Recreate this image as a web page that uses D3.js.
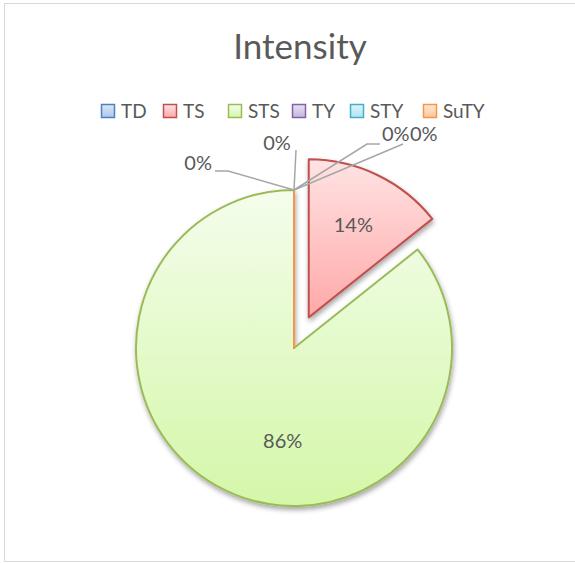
<!DOCTYPE html>
<html>
<head>
<meta charset="utf-8">
<script src="https://cdn.jsdelivr.net/npm/d3@7"></script>
<style>
  body { margin: 0; background: #fff; }
  svg text { font-family: Lato, "Open Sans", sans-serif; fill: #595959; }
</style>
</head>
<body>
<div class="canvas"></div>
<script>
// chart data
var categories = ['TD', 'TS', 'STS', 'TY', 'STY', 'SuTY'];
var counts = [0, 1, 6, 0, 0, 0];
var title = 'Intensity';

// excel-ish colours: border, gradient top, gradient bottom
var colors = ['#4F81BD', '#C0504D', '#9BBB59', '#8064A2', '#4BACC6', '#F79646'];
var fillTop = ['#DCE6F7', '#FFE3E3', '#F4FDEC', '#E8E0F3', '#DDF4FB', '#FFE8D6'];
var fillBottom = ['#AFC6EE', '#FFA8A8', '#D4F7A8', '#C6B6E0', '#ADE4F4', '#FFC69C'];

var width = 575, height = 563;
var cx = 294, cy = 348, radius = 158;
var explode = { TS: 34 };

var svg = d3.select('.canvas').append('svg')
	.attr('width', width).attr('height', height);

var defs = svg.append('defs');

// soft shadow like excel
var shadow = defs.append('filter').attr('id', 'shadow')
	.attr('x', '-20%').attr('y', '-20%').attr('width', '140%').attr('height', '140%');
shadow.append('feDropShadow')
	.attr('dx', 1).attr('dy', 3).attr('stdDeviation', 2.5)
	.attr('flood-color', '#000').attr('flood-opacity', 0.35);

// vertical gradient per category
categories.forEach(function(c, i) {
	var g = defs.append('linearGradient').attr('id', 'grad' + i)
		.attr('x1', 0).attr('y1', 0).attr('x2', 0).attr('y2', 1);
	g.append('stop').attr('offset', '0%').attr('stop-color', fillTop[i]);
	g.append('stop').attr('offset', '100%').attr('stop-color', fillBottom[i]);
});

// chart area border
svg.append('rect')
	.attr('x', 4.5).attr('y', 3.5)
	.attr('width', width + 10).attr('height', 558)
	.attr('fill', 'none').attr('stroke', '#D9D9D9').attr('stroke-width', 1);

svg.append('text')
	.attr('x', 300).attr('y', 59)
	.attr('text-anchor', 'middle')
	.style('font-size', '35px')
	.text(title);

// legend
var legendX = [101, 163, 228, 292, 350, 423];
var legend = svg.selectAll('g.legend')
	.data(categories)
	.enter().append('g')
	.classed('legend', true)
	.attr('transform', function(d, i) { return 'translate(' + legendX[i] + ',104)'; });
legend.append('rect')
	.attr('x', 0.5).attr('y', 0.5).attr('width', 13).attr('height', 13)
	.attr('fill', function(d, i) { return 'url(#grad' + i + ')'; })
	.attr('stroke', function(d, i) { return colors[i]; })
	.attr('stroke-width', 1.5);
legend.append('text')
	.attr('x', 20).attr('y', 13.5)
	.style('font-size', '19px')
	.text(function(d) { return d; });

// pie
var data = categories.map(function(c, i) { return { name: c, value: counts[i], idx: i }; });
var pie = d3.pie().sort(null).value(function(d) { return d.value; });
var arcs = pie(data);
var total = d3.sum(counts);
var arc = d3.arc().innerRadius(0).outerRadius(radius);

function offset(d) {
	var e = explode[d.data.name] || 0;
	var a = (d.startAngle + d.endAngle) / 2;
	return [e * Math.sin(a), -e * Math.cos(a)];
}

var grp = svg.append('g').attr('transform', 'translate(' + cx + ',' + cy + ')');

grp.selectAll('path.slice')
	.data(arcs)
	.enter().append('path')
	.classed('slice', true)
	.attr('transform', function(d) { return 'translate(' + offset(d) + ')'; })
	.attr('d', arc)
	.attr('fill', function(d) { return 'url(#grad' + d.data.idx + ')'; })
	.attr('stroke', function(d) { return colors[d.data.idx]; })
	.attr('stroke-width', 2)
	.attr('stroke-linejoin', 'round')
	.attr('filter', function(d) { return d.value > 0 ? 'url(#shadow)' : null; });

// labels for non-zero slices
var labelSpot = { TS: { angle: null, k: 0.65 }, STS: { angle: 187 * Math.PI / 180, k: 0.59 } };
var fmt = d3.format('.0%');
grp.selectAll('text.val')
	.data(arcs.filter(function(d) { return d.value > 0; }))
	.enter().append('text')
	.classed('val', true)
	.attr('text-anchor', 'middle')
	.style('font-size', '20px')
	.attr('transform', function(d) {
		var s = labelSpot[d.data.name];
		var a = s.angle != null ? s.angle : (d.startAngle + d.endAngle) / 2;
		var o = offset(d);
		return 'translate(' + [o[0] + s.k * radius * Math.sin(a), o[1] - s.k * radius * Math.cos(a) + 7] + ')';
	})
	.text(function(d) { return fmt(d.value / total); });

// zero slices get leader lines (placement as excel put them)
var zeroLayout = {
	TD:   { elbow: [73, -46], end: [86, -46], tx: 88, ty: -49, anchor: 'start' },
	TY:   { elbow: [-66, -19], end: [-79, -19], tx: -82, ty: -20, anchor: 'end' },
	STY:  { elbow: [2, -40], end: [2, -40], tx: -17, ty: -40, anchor: 'middle' },
	SuTY: { elbow: [109, -46], end: [109, -46], tx: 116, ty: -49, anchor: 'start' }
};
var zeros = arcs.filter(function(d) { return d.value === 0; });
zeros.forEach(function(d) {
	var L = zeroLayout[d.data.name];
	var p = [radius * Math.sin(d.startAngle), -radius * Math.cos(d.startAngle)];
	grp.append('polyline')
		.attr('points', [p, [p[0] + L.elbow[0], p[1] + L.elbow[1]], [p[0] + L.end[0], p[1] + L.end[1]]].join(' '))
		.attr('fill', 'none').attr('stroke', '#A6A6A6').attr('stroke-width', 1.5);
	grp.append('text')
		.attr('x', p[0] + L.tx).attr('y', p[1] + L.ty)
		.attr('text-anchor', L.anchor)
		.style('font-size', '20px')
		.text(fmt(d.value / total));
});
</script>
</body>
</html>
